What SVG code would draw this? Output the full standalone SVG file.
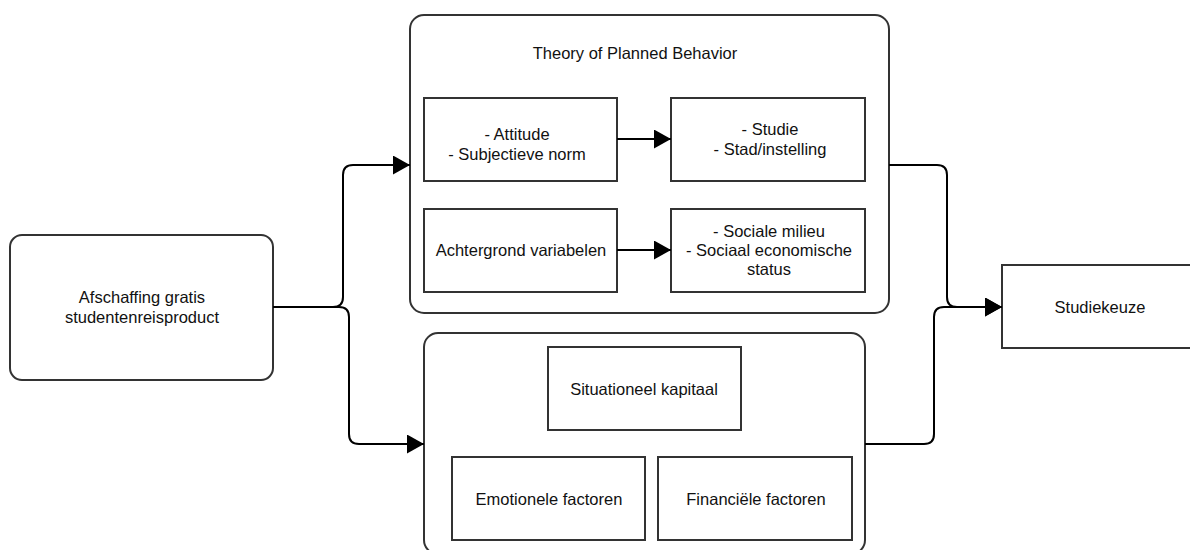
<svg xmlns="http://www.w3.org/2000/svg" width="1190" height="550" viewBox="0 0 1190 550">
<defs>
<style>
.box{fill:#fff;stroke:#333;stroke-width:2}
.t{font-family:"Liberation Sans",Arial,sans-serif;font-size:16.5px;fill:#111;text-anchor:middle;dominant-baseline:central}
.c{fill:none;stroke:#000;stroke-width:2}
</style>
<marker id="ah" viewBox="0 0 17 19" refX="17" refY="9.5" markerWidth="17" markerHeight="19" markerUnits="userSpaceOnUse" orient="auto">
<path d="M0,0 L17,9.5 L0,19 Z" fill="#000"/>
</marker>
</defs>
<rect width="1190" height="550" fill="#fff"/>
<g id="tpb">
<rect class="box" x="410" y="15" width="479" height="298" rx="14"/>
<text class="t" x="635" y="53">Theory of Planned Behavior</text>
</g>
<g id="attitude">
<rect class="box" x="424" y="98" width="193" height="83"/>
<text class="t" x="517" y="134">- Attitude</text>
<text class="t" x="517" y="154">- Subjectieve norm</text>
</g>
<g id="studie">
<rect class="box" x="671" y="98" width="194" height="83"/>
<text class="t" x="770" y="129">- Studie</text>
<text class="t" x="770" y="149">- Stad/instelling</text>
</g>
<g id="achtergrond">
<rect class="box" x="424" y="209" width="193" height="83"/>
<text class="t" x="521" y="250">Achtergrond variabelen</text>
</g>
<g id="sociale">
<rect class="box" x="671" y="209" width="194" height="83"/>
<text class="t" x="769" y="231">- Sociale milieu</text>
<text class="t" x="769" y="250">- Sociaal economische</text>
<text class="t" x="769" y="269">status</text>
</g>
<g id="lower">
<rect class="box" x="424" y="333" width="441" height="221" rx="14"/>
</g>
<g id="situationeel">
<rect class="box" x="548" y="347" width="193" height="83"/>
<text class="t" x="644" y="389">Situationeel kapitaal</text>
</g>
<g id="emotionele">
<rect class="box" x="452" y="457" width="193" height="83"/>
<text class="t" x="549" y="499">Emotionele factoren</text>
</g>
<g id="financiele">
<rect class="box" x="658" y="457" width="194" height="83"/>
<text class="t" x="756" y="499">Financiële factoren</text>
</g>
<g id="afschaffing">
<rect class="box" x="10" y="235" width="263" height="145" rx="12"/>
<text class="t" x="142" y="297">Afschaffing gratis</text>
<text class="t" x="142" y="317">studentenreisproduct</text>
</g>
<g id="studiekeuze">
<rect class="box" x="1002" y="265" width="200" height="83"/>
<text class="t" x="1100" y="307">Studiekeuze</text>
</g>
<g id="connectors">
<path class="c" d="M273,307 L333,307 Q343,307 343,297 L343,175 Q343,165 353,165 L410,165" marker-end="url(#ah)"/>
<path class="c" d="M273,307 L339,307 Q349,307 349,317 L349,434 Q349,444 359,444 L424,444" marker-end="url(#ah)"/>
<path class="c" d="M617,139 L671,139" marker-end="url(#ah)"/>
<path class="c" d="M617,250 L671,250" marker-end="url(#ah)"/>
<path class="c" d="M889,165 L937,165 Q947,165 947,175 L947,297 Q947,307 957,307 L1002,307" marker-end="url(#ah)"/>
<path class="c" d="M865,444 L924,444 Q934,444 934,434 L934,317 Q934,307 944,307 L1002,307" marker-end="url(#ah)"/>
</g>
</svg>
